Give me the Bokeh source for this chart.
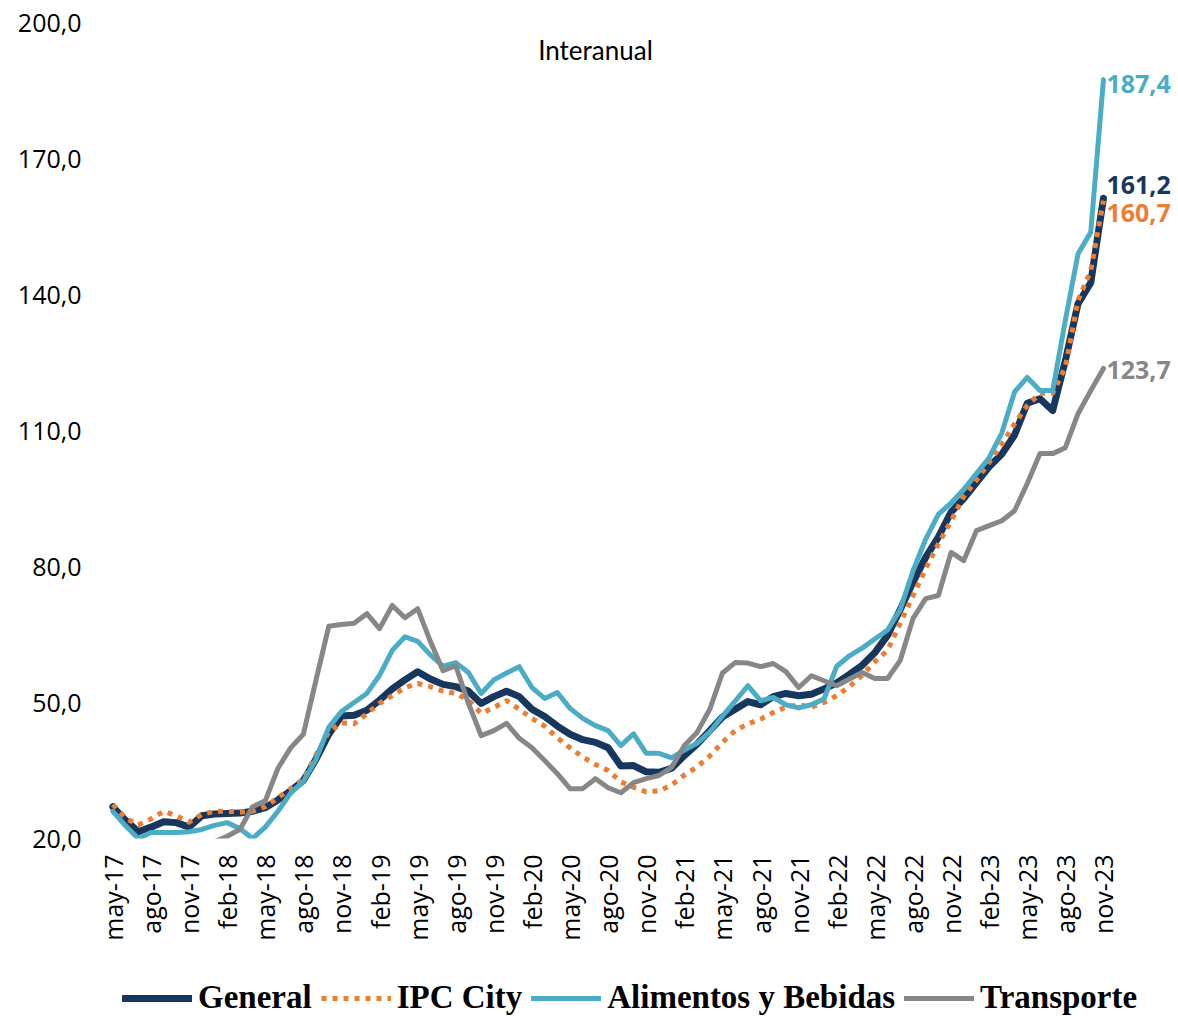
import math
from bokeh.plotting import figure
from bokeh.layouts import column
from bokeh.models import Range1d, FixedTicker, Legend, LegendItem, Label
from bokeh.embed import file_html
from bokeh.resources import INLINE

# ---------------- data ----------------
months = [
    "may-17", "jun-17", "jul-17", "ago-17", "sep-17", "oct-17", "nov-17", "dic-17",
    "ene-18", "feb-18", "mar-18", "abr-18", "may-18", "jun-18", "jul-18", "ago-18", "sep-18", "oct-18", "nov-18", "dic-18",
    "ene-19", "feb-19", "mar-19", "abr-19", "may-19", "jun-19", "jul-19", "ago-19", "sep-19", "oct-19", "nov-19", "dic-19",
    "ene-20", "feb-20", "mar-20", "abr-20", "may-20", "jun-20", "jul-20", "ago-20", "sep-20", "oct-20", "nov-20", "dic-20",
    "ene-21", "feb-21", "mar-21", "abr-21", "may-21", "jun-21", "jul-21", "ago-21", "sep-21", "oct-21", "nov-21", "dic-21",
    "ene-22", "feb-22", "mar-22", "abr-22", "may-22", "jun-22", "jul-22", "ago-22", "sep-22", "oct-22", "nov-22", "dic-22",
    "ene-23", "feb-23", "mar-23", "abr-23", "may-23", "jun-23", "jul-23", "ago-23", "sep-23", "oct-23", "nov-23",
]

general = [
    27.0, 24.0, 21.5, 22.5, 23.7, 23.5, 22.5, 25.0, 25.4, 25.5,
    25.6, 26.0, 26.8, 28.5, 30.5, 32.8, 37.5, 43.0, 47.0, 47.2,
    48.3, 50.5, 53.0, 55.0, 56.8, 55.2, 54.0, 53.5, 52.5, 49.8,
    51.3, 52.5, 51.3, 48.5, 46.9, 44.8, 43.0, 41.8, 41.2, 40.0,
    36.0, 36.1, 34.7, 34.6, 35.5, 38.3, 40.8, 43.8, 46.8, 48.5,
    50.2, 49.5, 51.3, 52.0, 51.5, 51.8, 53.0, 54.3, 56.2, 58.2,
    61.0, 64.8, 70.5, 76.5, 82.0, 86.5, 92.0, 95.0, 98.5, 102.0,
    104.8, 109.0, 116.0, 117.0, 114.4, 125.4, 138.0, 142.6, 161.2,
]

ipc_city = [
    27.5, 24.5, 23.0, 24.3, 26.0, 25.0, 23.6, 25.3, 26.0, 26.0,
    25.8, 26.0, 27.0, 29.0, 31.0, 33.0, 38.5, 43.5, 45.5, 45.3,
    47.5, 49.8, 51.5, 53.3, 54.2, 53.5, 52.5, 52.0, 50.5, 47.6,
    48.9, 50.4, 48.5, 46.5, 44.8, 42.2, 40.0, 38.0, 36.3, 35.0,
    32.5, 31.3, 30.3, 30.5, 31.8, 34.0, 35.8, 38.2, 41.2, 43.8,
    45.3, 46.3, 47.8, 49.0, 49.5, 49.0, 50.0, 51.5, 53.5, 56.0,
    59.0, 61.5, 67.5, 73.5, 79.5, 85.0, 90.0, 95.5, 99.0, 103.0,
    107.0, 111.5, 115.5, 118.2, 118.2, 124.0, 138.7, 145.3, 160.7,
]

alimentos = [
    26.0, 22.8, 20.0, 21.3, 21.3, 21.3, 21.5, 22.0, 22.9, 23.5,
    22.2, 20.0, 22.5, 26.0, 30.0, 32.6, 37.5, 44.5, 48.0, 50.0,
    52.0, 56.0, 61.5, 64.5, 63.5, 60.5, 58.0, 58.8, 56.6, 52.0,
    55.0, 56.5, 57.9, 53.3, 50.9, 52.2, 48.7, 46.5, 44.9, 43.8,
    40.5, 43.1, 38.8, 38.8, 37.8, 39.5, 41.0, 43.5, 47.0, 50.3,
    53.7, 50.4, 51.1, 49.5, 48.8, 49.5, 50.8, 58.0, 60.3, 62.0,
    64.0, 66.0, 70.5, 79.0, 86.0, 91.5, 94.0, 97.0, 100.5, 104.0,
    109.5, 118.5, 121.7, 118.8, 118.8, 134.3, 149.0, 153.7, 187.4,
]

transporte = [
    18.5, 17.0, 16.0, 16.5, 17.0, 17.5, 17.0, 17.5, 19.3, 20.5,
    22.0, 27.0, 28.3, 35.5, 40.0, 43.0, 55.0, 66.8, 67.2, 67.5,
    69.6, 66.3, 71.4, 68.7, 70.7, 63.5, 57.0, 58.1, 49.8, 42.7,
    43.8, 45.4, 42.1, 40.0, 37.2, 34.3, 31.0, 31.0, 33.2, 31.2,
    30.1, 32.3, 33.2, 33.9, 35.7, 40.5, 43.4, 48.5, 56.5, 58.8,
    58.7, 57.9, 58.6, 56.8, 53.3, 55.9, 54.8, 53.7, 55.2, 56.6,
    55.3, 55.3, 59.3, 68.5, 72.9, 73.6, 83.1, 81.3, 87.9, 89.0,
    90.1, 92.3, 98.3, 104.9, 104.9, 106.2, 113.7, 118.8, 123.7,
]

series_names = ["General", "IPC City", "Alimentos y Bebidas", "Transporte"]
y_ticks = [20, 50, 80, 110, 140, 170, 200]
y_tick_labels = ["20,0", "50,0", "80,0", "110,0", "140,0", "170,0", "200,0"]
title_text = "Interanual"

# ---------------- styles ----------------
NAVY = "#17375E"
ORANGE = "#ED7D31"
TEAL = "#4BACC6"
GREY = "#878787"

x = list(range(len(months)))
tick_idx = [i for i, m in enumerate(months) if m[:3] in ("feb", "may", "ago", "nov")]

W = 1178
LEFT = 106
STEP = 12.7  # px per month
x_end = (W - LEFT) / STEP - 0.5

p = figure(
    width=W, height=975,
    x_range=Range1d(-0.5, x_end),
    y_range=Range1d(y_ticks[0], y_ticks[-1]),
    output_backend="svg", toolbar_location=None,
    min_border_left=LEFT, min_border_right=0, min_border_top=22, min_border_bottom=137,
)
p.outline_line_color = None
p.grid.visible = False

p.xaxis.ticker = FixedTicker(ticks=tick_idx)
p.xaxis.major_label_overrides = {i: months[i] for i in tick_idx}
p.xaxis.major_label_orientation = math.pi / 2
p.yaxis.ticker = FixedTicker(ticks=y_ticks)
p.yaxis.major_label_overrides = {t: l for t, l in zip(y_ticks, y_tick_labels)}
for ax in (p.xaxis, p.yaxis):
    ax.axis_line_color = None
    ax.major_tick_line_color = None
    ax.minor_tick_line_color = None
    ax.major_tick_out = 0
    ax.major_tick_in = 0
    ax.major_label_text_font = "Open Sans"
    ax.major_label_text_font_size = "25px"
    ax.major_label_text_color = "#000000"
p.xaxis.major_label_standoff = 16
p.yaxis.major_label_standoff = 25

line_styles = [
    dict(line_color=NAVY, line_width=7, line_join="round", line_cap="round"),
    dict(line_color=ORANGE, line_width=5, line_dash="5 6", line_join="round"),
    dict(line_color=TEAL, line_width=5, line_join="round", line_cap="round"),
    dict(line_color=GREY, line_width=5, line_join="round", line_cap="round"),
]
all_series = [general, ipc_city, alimentos, transporte]
for ser, st in zip(all_series, line_styles):
    p.line(x, ser, **st)

p.add_layout(Label(x=38.0, y=194.0, text=title_text, text_font="Lato", text_font_size="26px",
                   text_align="center", text_baseline="middle", text_color="#000000"))

label_colors = [NAVY, ORANGE, TEAL, GREY]
label_yoff = [13, -12, -4, -2]
for ser, col, yoff in zip(all_series, label_colors, label_yoff):
    p.add_layout(Label(x=x[-1], y=ser[-1], text=f"{ser[-1]:.1f}".replace(".", ","),
                       x_offset=3, y_offset=yoff, text_font="Open Sans", text_font_style="bold",
                       text_font_size="25px", text_color=col, text_baseline="middle", text_align="left"))

# legend strip (its frame is aligned with the main plot's frame by the column layout)
pl = figure(width=W, height=41, x_range=Range1d(0, 1), y_range=Range1d(0, 1),
            output_backend="svg", toolbar_location=None, min_border=0,
            x_axis_location=None, y_axis_location=None)
pl.outline_line_color = None
pl.grid.visible = False
leg_renderers = [pl.line([-3, -2], [-3, -2], **st) for st in line_styles]
legend = Legend(
    items=[LegendItem(label=n, renderers=[r]) for n, r in zip(series_names, leg_renderers)],
    orientation="horizontal", location=(122 - LEFT, 0),
    label_text_font="Liberation Serif", label_text_font_style="bold", label_text_font_size="33px",
    label_text_color="#000000",
    glyph_width=70, glyph_height=30, label_standoff=6, spacing=9,
    padding=0, margin=0, border_line_color=None, background_fill_alpha=0,
)
pl.add_layout(legend)

layout = column(p, pl, spacing=0)
open("out.html", "w").write(file_html(layout, INLINE))
